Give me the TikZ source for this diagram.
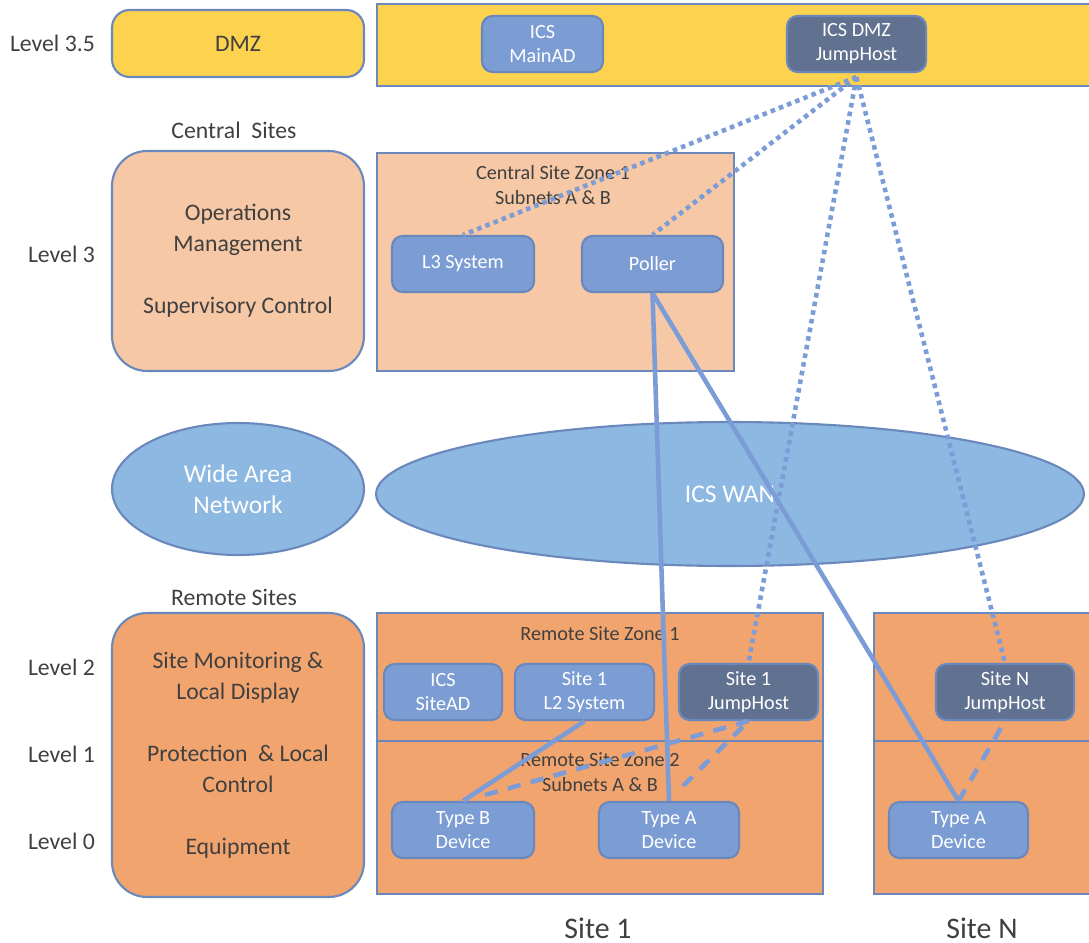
\documentclass[tikz,border=0pt]{standalone}
\usepackage{fontspec}
\setmainfont{Carlito}
\usepackage{xcolor}
\usepackage{tikz}
\usetikzlibrary{shapes.geometric}
\usetikzlibrary{calc}

\definecolor{dmzyellow}{HTML}{FDD24F}
\definecolor{peach}{HTML}{F6C8A6}
\definecolor{remoteorange}{HTML}{F2A46E}
\definecolor{wanblue}{HTML}{8DB8E2}
\definecolor{boxblue}{HTML}{7C9DD4}
\definecolor{boxdark}{HTML}{617190}
\definecolor{edgeblue}{HTML}{6A88BC}
\definecolor{linkblue}{HTML}{7B9CD6}
\definecolor{txtgray}{HTML}{404040}

\tikzstyle{box}=[rectangle,rounded corners=6pt,draw=edgeblue,fill=boxblue,line width=1.2pt,text=white,align=center,minimum height=1.12cm,inner sep=0pt,font=\fontsize{11.5}{13.6}\selectfont]
\tikzstyle{darkbox}=[box,fill=boxdark]
\tikzstyle{sidebox}=[rectangle,draw=edgeblue,line width=1.2pt,text=txtgray,align=center,minimum width=5.04cm,font=\fontsize{13.5}{17.6}\selectfont]
\tikzstyle{zone}=[draw=edgeblue,line width=1pt]
\tikzstyle{zonetext}=[text=txtgray,align=center,font=\fontsize{11.5}{14.2}\selectfont]
\tikzstyle{lvl}=[text=txtgray,anchor=east,font=\fontsize{13.5}{16}\selectfont]
\tikzstyle{wan}=[ellipse,draw=edgeblue,fill=wanblue,line width=1.2pt,text=white,align=center,inner sep=0pt,font=\fontsize{14.5}{17.6}\selectfont]
\tikzstyle{dotline} = [draw,linkblue,line width=2.6pt,dash pattern=on 2.6pt off 2.4pt]
\tikzstyle{solidline} = [draw,linkblue,line width=2.6pt]
\tikzstyle{dashline} = [draw,linkblue,line width=2.6pt,dash pattern=on 7.5pt off 6pt]

\begin{document}
\begin{tikzpicture}[x=0.02cm, y=-0.02cm]

  \useasboundingbox (0,0) rectangle (1089,943);

  % zones
  \draw[zone, fill=dmzyellow] (377,4) rectangle (1100,86);
  \draw[zone, fill=peach] (377,153) rectangle (734,371);
  \draw[zone, fill=remoteorange] (377,613) rectangle (823,741);
  \draw[zone, fill=remoteorange] (377,741) rectangle (823,894);
  \draw[zone, fill=remoteorange] (874,613) rectangle (1100,741);
  \draw[zone, fill=remoteorange] (874,741) rectangle (1100,894);

  \node[zonetext] (czone) at (553,185) {Central Site Zone 1\\Subnets A \& B};
  \node[zonetext] (rzone1) at (600,634) {Remote Site Zone 1};
  \node[zonetext] (rzone2) at (600,772) {Remote Site Zone 2\\Subnets A \& B};

  % left column
  \node[sidebox, fill=dmzyellow, rounded corners=10pt, minimum height=1.34cm] (dmz) at (238,43.5) {DMZ};
  \node[sidebox, fill=peach, rounded corners=0.7cm, minimum height=4.4cm] (ops) at (238,261)
       {Operations\\Management\\[17.6pt]Supervisory Control};
  \node[sidebox, fill=remoteorange, rounded corners=0.7cm, minimum height=5.68cm] (remote) at (238,755)
       {Site Monitoring \&\\Local Display\\[17.6pt]Protection \ \& Local\\Control\\[17.6pt]Equipment};
  \node[wan, minimum width=5.04cm, minimum height=2.64cm] (wan) at (238,489) {Wide Area\\Network};
  \node[wan, minimum width=14.16cm, minimum height=2.88cm] (icswan) at (730,494) {ICS WAN};

  \node[text=txtgray, font=\fontsize{13.5}{16}\selectfont] (central) at (234,130) {Central\ \ Sites};
  \node[text=txtgray, font=\fontsize{13.5}{16}\selectfont] (remotes) at (234,597) {Remote Sites};

  \foreach \y/\name/\label in {43/l35/3.5, 254/l3/3, 667/l2/2, 754/l1/1, 841/l0/0}
          \node[lvl] (\name) at (101,\y) {Level \label};

  % hosts
  \foreach \x/\y/\w/\name/\label in {542.5/44/2.42/mainad/{ICS\\MainAD}, 463/264/2.84/lthree/{L3 System},
          652.5/264/2.82/poller/{Poller}, 443/692/2.36/sitead/{ICS\\SiteAD}, 584.5/692/2.78/ltwo/{Site 1\\L2 System},
          463/830/2.84/typeb/{Type B\\Device}, 669/830/2.8/typea/{Type A\\Device}, 958.5/830/2.78/typean/{Type A\\Device}}
          \node[box, minimum width=\w cm] (\name) at (\x,\y) {\label};

  \foreach \x/\y/\w/\name/\label in {856.5/44/2.78/jhdmz/{ICS DMZ\\JumpHost}, 748.5/692/2.78/jhone/{Site 1\\JumpHost},
          1005/692/2.76/jhn/{Site N\\JumpHost}}
          \node[darkbox, minimum width=\w cm] (\name) at (\x,\y) {\label};

  % links
  \foreach \dest in {lthree, poller, jhone, jhn}
         \path[dotline] ([yshift=-0.08cm]jhdmz.south) -- (\dest.north);

  \foreach \source/ \dest in {poller/typea, poller/typean, ltwo/typeb}
         \path[solidline] (\source.south) -- (\dest.north);

  \path[dashline] ([xshift=0.44cm,yshift=0.12cm]typeb.north) -- (jhone.south);
  \path[dashline] ([xshift=0.28cm,yshift=0.3cm]typea.north) -- (jhone.south);
  \path[dashline] (typean.north) -- (jhn.south);

  \node[text=txtgray, font=\fontsize{17}{20}\selectfont] (site1) at (598,928) {Site 1};
  \node[text=txtgray, font=\fontsize{17}{20}\selectfont] (siten) at (982,928) {Site N};

\end{tikzpicture}
\end{document}
